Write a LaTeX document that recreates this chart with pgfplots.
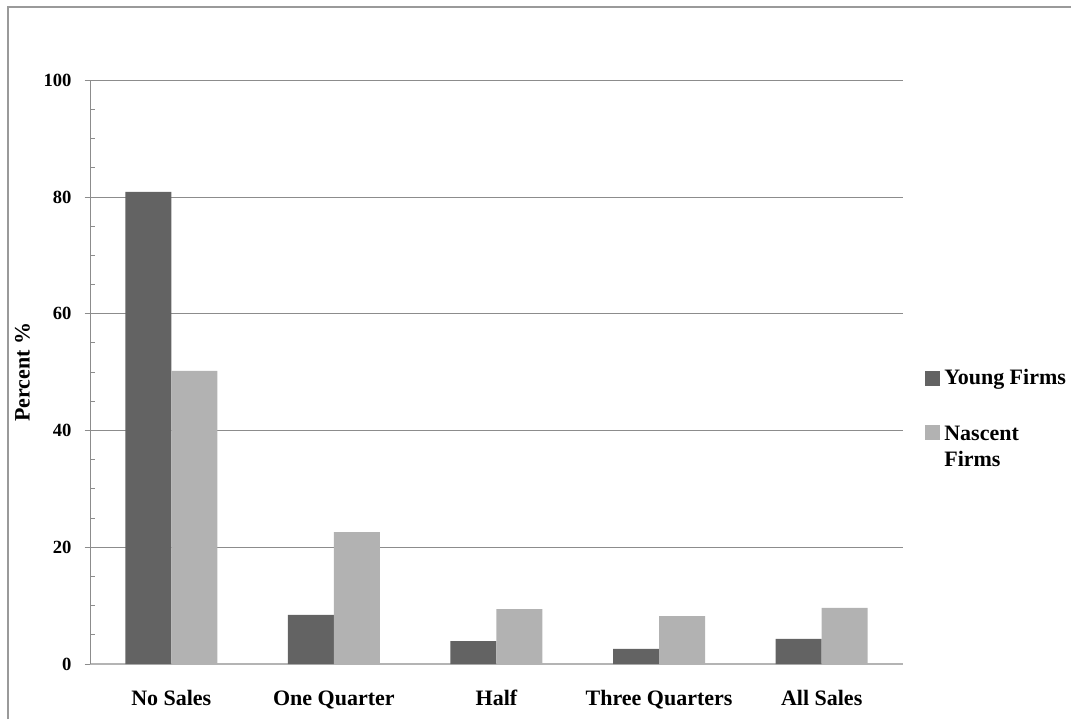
\documentclass[border=0pt]{standalone}
\usepackage{fontspec}
\setmainfont{Liberation Serif}
\usepackage{pgfplots}
\pgfplotsset{compat=1.18}
\definecolor{youngc}{HTML}{636363}
\definecolor{nascentc}{HTML}{B2B2B2}
\definecolor{gridc}{HTML}{8C8C8C}
\definecolor{basec}{HTML}{B4B4B4}
\definecolor{framec}{HTML}{9A9A9A}
\begin{document}
\begin{tikzpicture}
\useasboundingbox (0,0) rectangle (535.5pt,359.5pt);
% outer chart frame (top and left edges)
\draw[framec, line width=0.6pt] (4pt,0pt) -- (4pt,356pt) -- (535.5pt,356pt);
\begin{axis}[
  at={(45pt,27.5pt)}, anchor=south west,
  width=406.5pt, height=291.85pt, scale only axis,
  ybar=0pt, bar width=23pt,
  xmin=-0.5, xmax=4.5,
  ymin=0, ymax=100,
  xtick={0,1,2,3,4},
  xticklabels={No Sales, One Quarter, Half, Three Quarters, All Sales},
  ytick={0,20,40,60,80,100},
  minor y tick num=3,
  axis x line=bottom, axis y line=left,
  axis line style={-, gridc, line width=0.5pt},
  x axis line style={basec, line width=1pt},
  ymajorgrids, major grid style={gridc, line width=0.5pt},
  major x tick style={draw=none},
  tick align=center,
  major tick length=5.5pt,
  minor tick length=2.5pt,
  major tick style={gridc, line width=0.5pt},
  minor tick style={gridc, line width=0.5pt, xshift=1.25pt},
  /pgf/number format/assume math mode=true,
  yticklabel style={font=\bfseries\fontsize{9.3}{10}\selectfont, xshift=-3pt},
  xticklabel style={font=\bfseries\fontsize{11}{12}\selectfont, yshift=-7pt,
    text height=1.6ex, text depth=0.4ex},
  ylabel={Percent \%},
  ylabel style={font=\bfseries\fontsize{11}{12}\selectfont, xshift=0pt},
  legend style={at={(1.027,0.512)}, anchor=north west, draw=none, fill=none,
    inner sep=0pt, row sep=13pt,
    font=\bfseries\fontsize{11}{13}\selectfont,
    cells={anchor=west, align=left},
    /tikz/every even column/.append style={column sep=2.5pt}},
  legend image code/.code={\fill[#1] (0pt,-3.75pt) rectangle (7.5pt,3.75pt);},
]
\addplot[fill=youngc, draw=none] coordinates {(0,80.9) (1,8.4) (2,3.9) (3,2.6) (4,4.3)};
\addplot[fill=nascentc, draw=none] coordinates {(0,50.2) (1,22.6) (2,9.4) (3,8.2) (4,9.6)};
\legend{Young Firms, {\begin{tabular}[t]{@{}l@{}}Nascent\\Firms\end{tabular}}}
\end{axis}
\end{tikzpicture}
\end{document}
